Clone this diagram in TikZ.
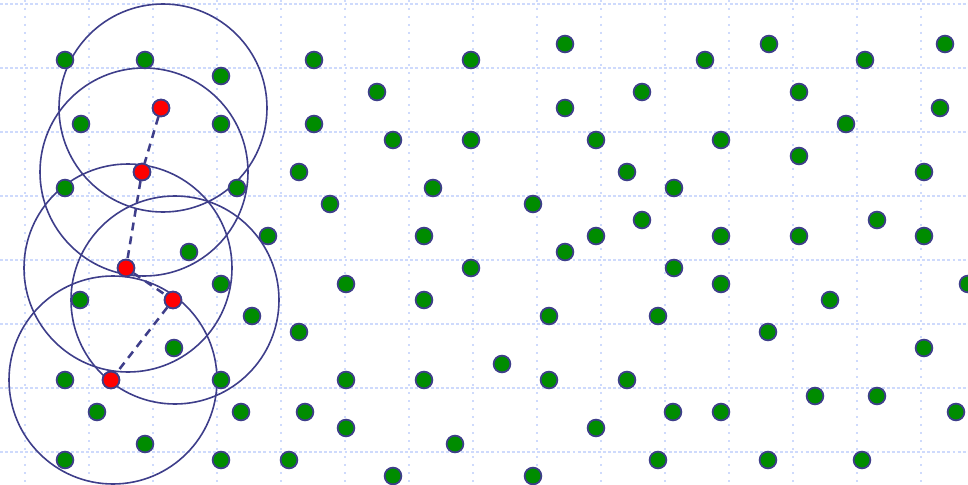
\documentclass[tikz,border=0pt]{standalone}
\usetikzlibrary{positioning}

\definecolor{gridblue}{RGB}{206,218,252}
\definecolor{linkblue}{RGB}{62,62,138}
\definecolor{dotgreen}{RGB}{0,140,0}

\tikzset{
  sensor/.style={circle, draw=linkblue, fill=dotgreen, line width=1.3pt,
    minimum size=12.6pt, inner sep=0pt},
  relay/.style={sensor, fill=red},
  radio/.style={draw=linkblue, line width=1.2pt},
  hop/.style={draw=linkblue, line width=1.9pt, dash pattern=on 6pt off 4.5pt}
}

\begin{document}
\begin{tikzpicture}[x=0.75pt, y=-0.75pt]

  \useasboundingbox (0,0) rectangle (968,485);

  % -- Background grid --
  \foreach \gy in {4,68,...,452}
    \draw[gridblue, line width=0.9pt, dash pattern=on 2.2pt off 1.6pt] (0,\gy) -- (968,\gy);
  \foreach \gx in {25,89,...,921}
    \draw[gridblue, line width=1.3pt, dash pattern=on 1.5pt off 4.5pt] (\gx,0) -- (\gx,485);

  % -- Route nodes --
  \node[relay] (r1) at (161,108) {};
  \node[relay] (r2) at (142,172) {};
  \node[relay] (r3) at (126,268) {};
  \node[relay] (r4) at (173,300) {};
  \node[relay] (r5) at (111,380) {};

  % -- Radio ranges --
  \foreach \r in {r1,r2,r3,r4,r5}
    \draw[radio] ([xshift=1.5pt]\r.center) circle[radius=78pt];

  % -- Hops --
  \draw[hop] (r1) -- (r2) -- (r3) -- (r4) -- (r5);

  % -- Other sensors --
  \foreach \x/\y [count=\i] in {
    65/60, 145/60, 221/76, 81/124, 221/124, 65/188, 237/188, 268/236,
    189/252, 221/284, 80/300, 252/316, 299/332, 174/348, 65/380, 221/380,
    97/412, 241/412, 305/412, 145/444, 65/460, 221/460, 289/460,
    314/60, 314/124, 299/172, 330/204,
    471/60, 565/44, 377/92, 565/108, 642/92, 393/140, 471/140, 596/140,
    627/172, 433/188, 533/204, 642/220, 424/236, 596/236, 565/252, 471/268,
    346/284, 424/300, 549/316, 502/364, 346/380, 424/380, 549/380, 627/380,
    346/428, 596/428, 455/444, 393/476, 533/476,
    705/60, 769/44, 865/60, 945/44, 799/92, 940/108, 846/124, 721/140,
    799/156, 924/172, 674/188, 877/220, 721/236, 799/236, 924/236, 674/268,
    721/284, 968/284, 658/316, 830/300, 768/332, 924/348, 815/396, 877/396,
    673/412, 721/412, 956/412, 658/460, 768/460, 862/460}
    \node[sensor] (g\i) at (\x,\y) {};

  % -- Route nodes on top --
  \foreach \r in {r1,r2,r3,r4,r5}
    \node[relay] at (\r) {};

\end{tikzpicture}
\end{document}
